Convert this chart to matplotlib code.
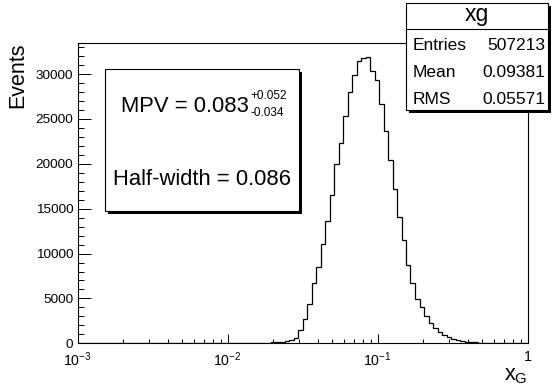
import numpy as np
import matplotlib
matplotlib.use('Agg')
import matplotlib.pyplot as plt
from matplotlib.patches import Rectangle
from matplotlib.lines import Line2D
from matplotlib.ticker import MultipleLocator, LogLocator, NullFormatter, FuncFormatter

plt.rcParams['font.family'] = ['Liberation Sans', 'DejaVu Sans']
plt.rcParams['mathtext.fontset'] = 'custom'
plt.rcParams['mathtext.rm'] = 'Liberation Sans'
plt.rcParams['mathtext.it'] = 'Liberation Sans:italic'

# histogram: 100 log-spaced bins between 1e-3 and 1
bin_lo_exp, bin_hi_exp, n_bins = -3, 0, 100
counts = [0] * 30 + [
    1, 1, 2, 3, 4, 6, 8, 12, 17, 24,
    34, 48, 68, 95, 130, 180, 230, 330, 630, 1450,
    2700, 4350, 6700, 8450, 11100, 13630, 16550, 20000, 22300, 25370,
    27960, 29920, 31480, 31750, 31940, 30400, 29300, 26700, 23700, 20450,
    17240, 14070, 11480, 8750, 6700, 4900, 4000, 3050, 2300, 1720,
    1300, 930, 670, 480, 370, 260, 185, 130, 95, 68,
    48, 34, 24, 17, 12, 8, 6, 4, 3, 2,
]

hist_name = 'xg'
stat_labels = ['Entries', 'Mean', 'RMS']
stat_values = ['507213', '0.09381', '0.05571']

mpv_main = 'MPV = 0.083'
mpv_up = '+0.052'
mpv_down = '-0.034'
half_width = 'Half-width = 0.086'

W, H = 556, 387
def fx(px):
    return px / W
def fy(py):
    return 1 - py / H

fig = plt.figure(figsize=(W / 100, H / 100), dpi=100)
ax = fig.add_axes([fx(77.5), fy(343.3), (527.5 - 77.5) / W, (343.3 - 42.7) / H])

edges = np.logspace(bin_lo_exp, bin_hi_exp, n_bins + 1)
ax.stairs(counts, edges, color='black', lw=0.9)

ax.set_xscale('log')
ax.set_xlim(1e-3, 1)
ax.set_ylim(0, 33500)

ax.yaxis.set_major_locator(MultipleLocator(5000))
ax.yaxis.set_minor_locator(MultipleLocator(1000))
ax.xaxis.set_major_locator(LogLocator(base=10, numticks=10))
ax.xaxis.set_minor_locator(LogLocator(base=10, subs=np.arange(2, 10), numticks=20))
ax.xaxis.set_minor_formatter(NullFormatter())

def xfmt(v, pos):
    e = int(round(np.log10(v)))
    if e == 0:
        return '1'
    return r'$\mathregular{10^{%d}}$' % e
ax.xaxis.set_major_formatter(FuncFormatter(xfmt))

ax.tick_params(axis='both', which='both', direction='in', top=False, right=False,
               width=0.7, labelsize=9.7)
ax.tick_params(axis='y', which='major', length=9.7, pad=3)
ax.tick_params(axis='y', which='minor', length=4.3)
ax.tick_params(axis='x', which='major', length=6.5, pad=5, labelsize=10.2)
ax.tick_params(axis='x', which='minor', length=3.2)
for s in ax.spines.values():
    s.set_linewidth(0.8)

fig.text(fx(18), fy(42.7), 'Events', rotation=90, ha='center', va='top', fontsize=15.5)
fig.text(fx(527.5), fy(386), r'$\mathregular{x_G}$', ha='right', va='bottom', fontsize=15.5)

# stat box
bx0, by0, bx1, by1 = 406, 2.7, 548, 110
fig.add_artist(Rectangle((fx(bx0 + 3), fy(by1 + 3)), (bx1 - bx0) / W, (by1 - by0) / H,
                         transform=fig.transFigure, fc='black', ec='none'))
fig.add_artist(Rectangle((fx(bx0), fy(by1)), (bx1 - bx0) / W, (by1 - by0) / H,
                         transform=fig.transFigure, fc='white', ec='black', lw=0.8))
fig.add_artist(Line2D([fx(bx0), fx(bx1)], [fy(29), fy(29)], transform=fig.transFigure,
                      color='black', lw=0.8))
fig.text(fx((bx0 + bx1) / 2), fy(20.5), hist_name, ha='center', va='baseline', fontsize=16.5)
for lab, val, yb in zip(stat_labels, stat_values, [50, 77.3, 104.3]):
    fig.text(fx(413), fy(yb), lab, ha='left', va='baseline', fontsize=12.5)
    fig.text(fx(545), fy(yb), val, ha='right', va='baseline', fontsize=12.5)

# MPV box
tx0, ty0, tx1, ty1 = 105, 69, 299.3, 211
fig.add_artist(Rectangle((fx(tx0 + 3), fy(ty1 + 3)), (tx1 - tx0) / W, (ty1 - ty0) / H,
                         transform=fig.transFigure, fc='black', ec='none'))
fig.add_artist(Rectangle((fx(tx0), fy(ty1)), (tx1 - tx0) / W, (ty1 - ty0) / H,
                         transform=fig.transFigure, fc='white', ec='black', lw=0.8))

t_main = fig.text(fx(121), fy(111.7), mpv_main, ha='left', va='baseline', fontsize=15.8)
fig.canvas.draw()
bb = t_main.get_window_extent()
x_after = bb.x1 / W + 1.5 / W
fig.text(x_after, fy(98.5), mpv_up, ha='left', va='baseline', fontsize=8.5)
fig.text(x_after, fy(116), mpv_down, ha='left', va='baseline', fontsize=8.5)
fig.text(fx((tx0 + tx1) / 2), fy(185), half_width, ha='center', va='baseline', fontsize=15.8)

fig.savefig('out.png', dpi=100)
